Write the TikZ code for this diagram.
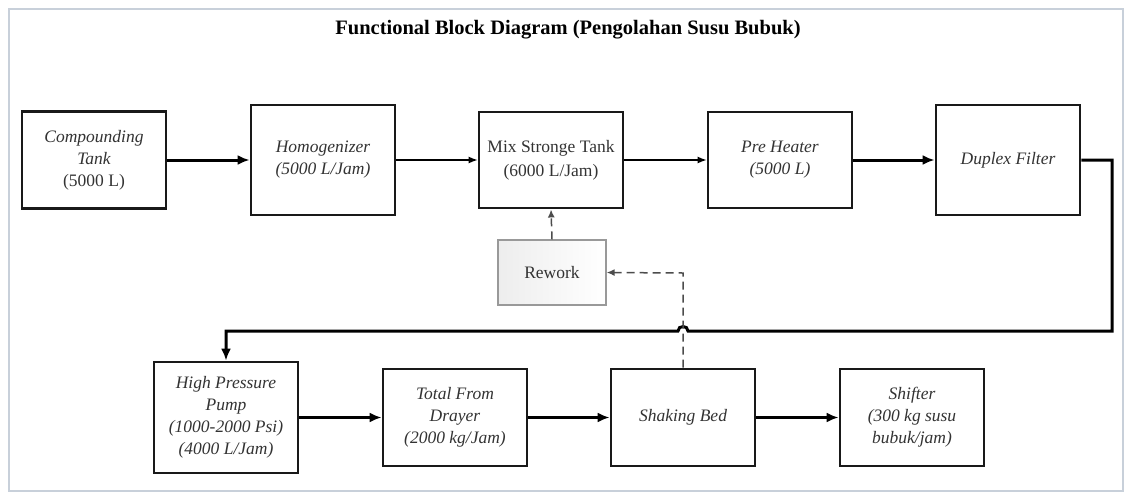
\documentclass[tikz,border=0pt]{standalone}
\usepackage{fontspec}
\setmainfont{Liberation Serif}
\usetikzlibrary{arrows.meta}
\definecolor{framec}{HTML}{C8D0DA}
\definecolor{txtc}{HTML}{333333}
\begin{document}
\begin{tikzpicture}[x=1pt,y=-1pt,
  blk/.style={draw=black!90, line width=2.9pt, fill=white, minimum width=144pt, align=center, inner sep=2pt, text=txtc, font=\fontsize{17.5}{22}\selectfont\itshape},
  rwk/.style={draw=black!40, line width=1.3pt, left color=black!7, right color=white, minimum width=108pt, minimum height=65pt, text=txtc, font=\fontsize{17.5}{22}\selectfont},
  thk/.style={line width=3pt, -{Latex[length=12pt,width=10pt]}},
  thm/.style={line width=2.3pt, -{Latex[length=12pt,width=10pt]}},
  thn/.style={line width=1.2pt, -{Latex[length=9pt,width=7pt]}},
  dsh/.style={line width=1.5pt, draw=black!70, dash pattern=on 8pt off 5pt, -{Latex[length=8pt,width=7pt]}}
]
\useasboundingbox (0,0) rectangle (1126,496);
\draw[framec, line width=1.5pt] (9,9) rectangle (1123,491);

\node (title) at (568,30) {\fontsize{20.5}{24}\selectfont\bfseries Functional Block Diagram (Pengolahan Susu Bubuk)};

\node[blk, minimum height=97pt] (comp) at (94,160) {Compounding\\Tank\\\upshape(5000 L)};
\node[blk, minimum height=110pt] (homo) at (323,160) {Homogenizer\\(5000 L/Jam)};
\node[blk, minimum height=96pt, font=\fontsize{17.5}{24}\selectfont] (mix) at (551,160) {Mix Stronge Tank\\(6000 L/Jam)};
\node[blk, minimum height=96pt] (pre) at (780,160) {Pre Heater\\(5000 L)};
\node[blk, minimum height=110pt] (dup) at (1008,160) {Duplex Filter};

\node[rwk] (rw) at (552,272.5) {Rework};

\node[blk, minimum height=111pt] (hpp) at (226,417.5) {High Pressure\\Pump\\(1000-2000 Psi)\\(4000 L/Jam)};
\node[blk, minimum height=97pt] (tfd) at (455,417.5) {Total From\\Drayer\\(2000 kg/Jam)};
\node[blk, minimum height=97pt] (sb) at (683,417.5) {Shaking Bed};
\node[blk, minimum height=97pt] (shf) at (912,417.5) {Shifter\\(300 kg susu\\bubuk/jam)};

\coordinate (c1) at (1112,160);
\coordinate (c2) at (1112,331);
\coordinate (h1) at (688,331);
\coordinate (h2) at (678,331);
\coordinate (c3) at (226,331);
\coordinate (d1) at (683,273);

\draw[thk] (comp) -- (homo);
\draw[thn] (homo) -- (mix);
\draw[thn] (mix) -- (pre);
\draw[thk] (pre) -- (dup);
\draw[thk] (dup.east) -- (c1) -- (c2) -- (h1) .. controls (688,325) and (678,325) .. (h2) -- (c3) -- (hpp.north);
\draw[thm] (hpp) -- (tfd);
\draw[thm] (tfd) -- (sb);
\draw[thm] (sb) -- (shf);
\draw[dsh] (sb.north) -- (d1) -- (rw.east);
\draw[dsh] (rw.north) -- (mix.south);
\end{tikzpicture}
\end{document}
